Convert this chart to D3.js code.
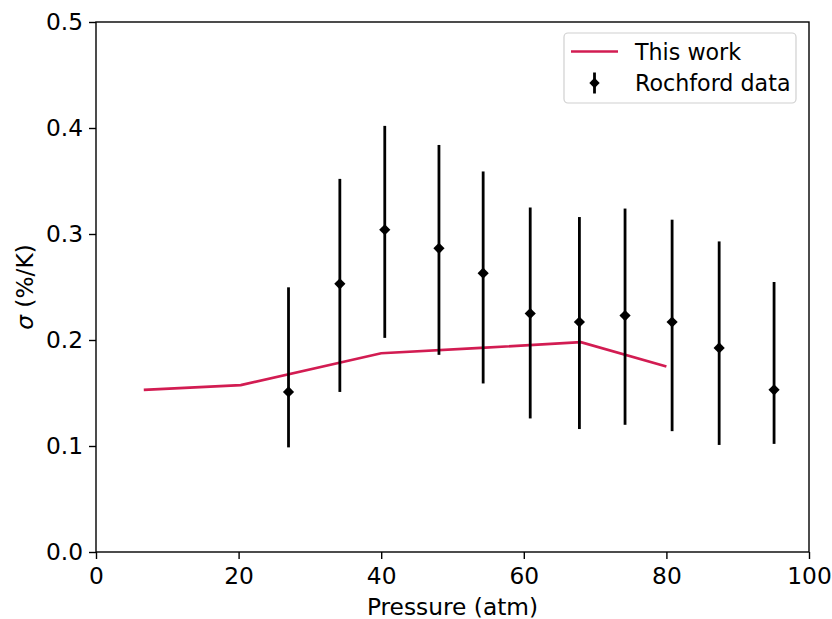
<!DOCTYPE html>
<html>
<head>
<meta charset="utf-8">
<script src="https://cdn.jsdelivr.net/npm/d3@7"></script>
<style>
  body { margin: 0; background: #fff; }
  svg { display: block; font-family: "DejaVu Sans", sans-serif; }
</style>
</head>
<body>
<svg id="chart" width="832" height="619"></svg>
<script>
// ---- data ----
const modelPressure = [6.7, 20.3, 40.0, 54.0, 68.0, 80.0];
const modelSigma    = [0.153, 0.1575, 0.1875, 0.1925, 0.198, 0.175];

const dataPressure = [27.0, 34.2, 40.5, 48.1, 54.3, 60.9, 67.8, 74.2, 80.8, 87.4, 95.1];
const dataSigma    = [0.151, 0.253, 0.304, 0.2865, 0.263, 0.225, 0.217, 0.223, 0.217, 0.1925, 0.153];
const dataUpper    = [0.2497, 0.352, 0.402, 0.384, 0.359, 0.325, 0.316, 0.324, 0.3135, 0.293, 0.2547];
const dataLower    = [0.0987, 0.151, 0.202, 0.186, 0.159, 0.126, 0.116, 0.120, 0.114, 0.101, 0.102];

const xTicks = [0, 20, 40, 60, 80, 100];
const yTicks = [0.0, 0.1, 0.2, 0.3, 0.4, 0.5];
const legendLabels = ["This work", "Rochford data"];

// ---- layout ----
const FS = 23.3;
const FS_LEG = 22.2;
const svg = d3.select("#chart");
const L = 96, R = 809, T = 22, B = 552;
const x = d3.scaleLinear().domain([0, 100]).range([L, R]);
const y = d3.scaleLinear().domain([0, 0.5]).range([B, T]);
const red = "#d21c52";

// axes
const xAxis = d3.axisBottom(x).tickValues(xTicks).tickFormat(d3.format("d")).tickSizeOuter(0).tickSize(7).tickPadding(8);
const yAxis = d3.axisLeft(y).tickValues(yTicks).tickFormat(d3.format(".1f")).tickSizeOuter(0).tickSize(7).tickPadding(6);

const gx = svg.append("g").attr("transform", `translate(0,${B})`).call(xAxis);
const gy = svg.append("g").attr("transform", `translate(${L},0)`).call(yAxis);
[gx, gy].forEach(g => {
  g.select(".domain").remove();
  g.selectAll(".tick line").attr("stroke", "#000").attr("stroke-width", 1.4);
  g.selectAll(".tick text").attr("font-size", FS).attr("fill", "#000")
   .attr("font-family", "DejaVu Sans, sans-serif");
});

// frame
svg.append("rect").attr("x", L).attr("y", T).attr("width", R - L).attr("height", B - T)
  .attr("fill", "none").attr("stroke", "#000").attr("stroke-width", 1.4);

// model line
const modelData = modelPressure.map((p, i) => [p, modelSigma[i]]);
svg.append("path").datum(modelData)
  .attr("fill", "none").attr("stroke", red).attr("stroke-width", 2.7)
  .attr("d", d3.line().x(d => x(d[0])).y(d => y(d[1])));

// error bars
const pts = dataPressure.map((p, i) => ({p, s: dataSigma[i], hi: dataUpper[i], lo: dataLower[i]}));
svg.append("g").selectAll("line").data(pts).join("line")
  .attr("x1", d => x(d.p)).attr("x2", d => x(d.p))
  .attr("y1", d => y(d.lo)).attr("y2", d => y(d.hi))
  .attr("stroke", "#000").attr("stroke-width", 2.8);

const diamond = (cx, cy, r) => `M${cx},${cy - r}L${cx + r},${cy}L${cx},${cy + r}L${cx - r},${cy}Z`;
svg.append("g").selectAll("path").data(pts).join("path")
  .attr("d", d => diamond(x(d.p), y(d.s), 5.6))
  .attr("fill", "#000");

// axis labels
svg.append("text").attr("x", (L + R) / 2).attr("y", 615).attr("text-anchor", "middle")
  .attr("font-size", FS).text("Pressure (atm)");
const yl = svg.append("text").attr("transform", `translate(33,${(T + B) / 2}) rotate(-90)`)
  .attr("text-anchor", "middle").attr("font-size", FS);
yl.append("tspan").attr("font-style", "italic").text("σ");
yl.append("tspan").text(" (%/K)");

// legend
const lg = svg.append("g");
lg.append("rect").attr("x", 564).attr("y", 33).attr("width", 232).attr("height", 70)
  .attr("rx", 4).attr("fill", "#fff").attr("fill-opacity", 0.8).attr("stroke", "#d0d0d0").attr("stroke-width", 1.2);
lg.append("line").attr("x1", 571).attr("x2", 618).attr("y1", 51.5).attr("y2", 51.5)
  .attr("stroke", red).attr("stroke-width", 2.7);
lg.append("line").attr("x1", 594.5).attr("x2", 594.5).attr("y1", 72.5).attr("y2", 93.5)
  .attr("stroke", "#000").attr("stroke-width", 2.8);
lg.append("path").attr("d", diamond(594.5, 83, 5.2)).attr("fill", "#000");
lg.selectAll("text").data(legendLabels).join("text")
  .attr("x", 635).attr("y", (d, i) => 59.5 + i * 31.7)
  .attr("font-size", FS_LEG).text(d => d);
</script>
</body>
</html>
